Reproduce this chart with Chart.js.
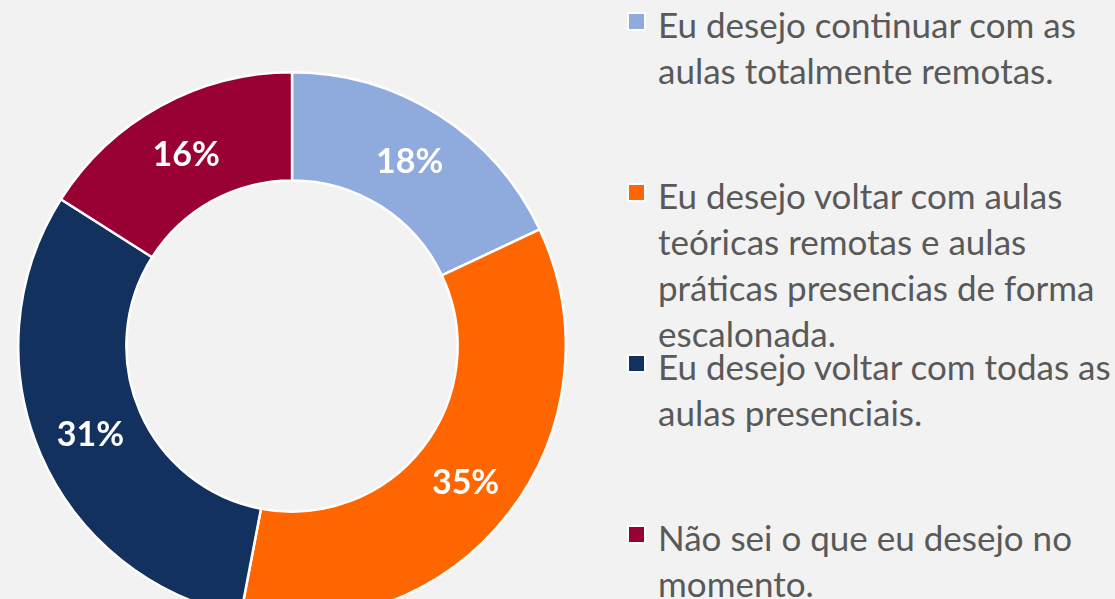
<!DOCTYPE html>
<html lang="pt-BR">
<head>
    <meta charset="UTF-8">
    <title>Preferência de retorno às aulas</title>
    <script src="https://cdn.jsdelivr.net/npm/chart.js"></script>
    <style>
        html, body {
            margin: 0;
            padding: 0;
            width: 1115px;
            height: 599px;
            overflow: hidden;
            background: #f2f2f2;
            font-family: Lato, "Noto Sans", sans-serif;
        }
        .chart-box {
            position: absolute;
            left: 17px;
            top: 71px;
            width: 550px;
            height: 550px;
        }
        .legend-item {
            position: absolute;
            left: 627px;
            color: #595959;
            font-size: 35px;
            line-height: 46px;
            white-space: nowrap;
        }
        .legend-item .marker {
            position: absolute;
            left: 0;
            top: 11px;
            width: 15px;
            height: 15px;
            border: 2.5px solid #ffffff;
        }
        .legend-item .text {
            margin-left: 31px;
        }
    </style>
</head>
<body>
    <div class="chart-box">
        <canvas id="donut"></canvas>
    </div>
    <div id="legend"></div>

    <script>
        // dados
        const labels = [
            ['Eu desejo continuar com as', 'aulas totalmente remotas.'],
            ['Eu desejo voltar com aulas', 'teóricas remotas e aulas', 'práticas presencias de forma', 'escalonada.'],
            ['Eu desejo voltar com todas as', 'aulas presenciais.'],
            ['Não sei o que eu desejo no', 'momento.']
        ];
        const values = [18, 35, 31, 16];
        const colors = ['#8faadc', '#ff6600', '#12315e', '#990033'];

        // rótulos brancos no meio de cada fatia
        const sliceLabels = {
            id: 'sliceLabels',
            afterDatasetsDraw(chart) {
                const ctx = chart.ctx;
                const meta = chart.getDatasetMeta(0);
                const total = values.reduce((a, b) => a + b, 0);
                ctx.save();
                ctx.fillStyle = '#ffffff';
                ctx.font = 'bold 34px Lato, "Noto Sans", sans-serif';
                ctx.textAlign = 'center';
                ctx.textBaseline = 'middle';
                meta.data.forEach((arc, i) => {
                    const p = arc.getCenterPoint();
                    const pct = Math.round(values[i] / total * 100) + '%';
                    ctx.fillText(pct, p.x, p.y + 2);
                });
                ctx.restore();
            }
        };

        new Chart(document.getElementById('donut').getContext('2d'), {
            type: 'doughnut',
            data: {
                labels: labels.map(l => l.join(' ')),
                datasets: [{
                    data: values,
                    backgroundColor: colors,
                    borderColor: '#ffffff',
                    borderWidth: 2.5
                }]
            },
            options: {
                responsive: true,
                maintainAspectRatio: false,
                animation: false,
                cutout: '60.5%',
                layout: { padding: 0 },
                plugins: {
                    legend: { display: false },
                    tooltip: { enabled: false }
                }
            },
            plugins: [sliceLabels]
        });

        // legenda à direita
        const legend = document.getElementById('legend');
        labels.forEach((lines, i) => {
            const item = document.createElement('div');
            item.className = 'legend-item';
            item.style.top = (1 + i * 171) + 'px';
            const marker = document.createElement('span');
            marker.className = 'marker';
            marker.style.background = colors[i];
            const text = document.createElement('div');
            text.className = 'text';
            lines.forEach(line => {
                const row = document.createElement('div');
                row.textContent = line;
                text.appendChild(row);
            });
            item.appendChild(marker);
            item.appendChild(text);
            legend.appendChild(item);
        });
    </script>
</body>
</html>
